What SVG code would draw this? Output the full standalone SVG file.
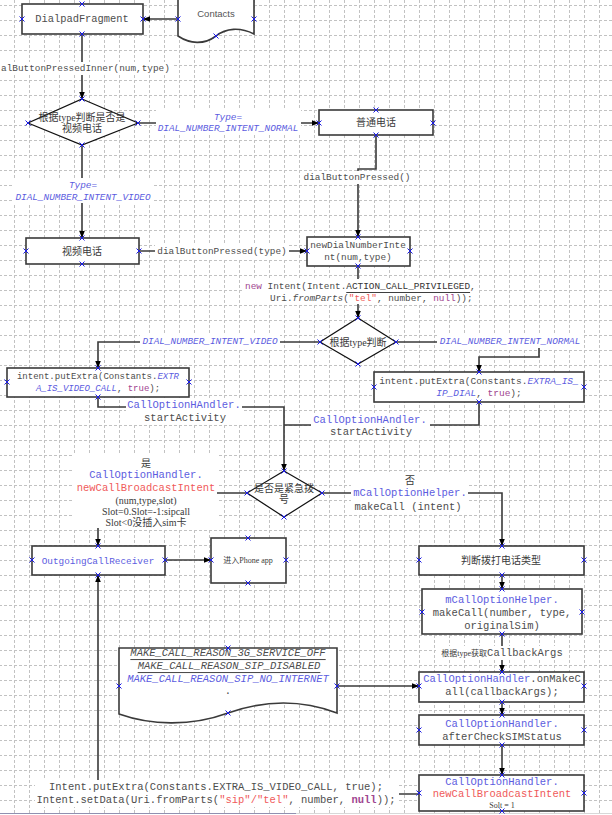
<svg xmlns="http://www.w3.org/2000/svg" xmlns:xlink="http://www.w3.org/1999/xlink" width="612" height="815" viewBox="0 0 612 815">
<style>
.grid{fill:url(#gridpat)}
.box{fill:#fff;stroke:#3a3a3a;stroke-width:1.6}
.dia{fill:#fff;stroke:#111;stroke-width:1.2}
.conn{fill:none;stroke:#3a3a3a;stroke-width:1.6}
.arr{marker-end:url(#ah)}
.bg{fill:#fff}
text{dominant-baseline:central;text-anchor:middle}
.m{font-family:"Liberation Mono",monospace;font-size:9.4px;fill:#4d4d4d}
.ml{font-family:"Liberation Mono",monospace;font-size:10.5px;fill:#4d4d4d}
.cn{font-family:"Liberation Serif","Noto Sans CJK SC",serif;font-size:10px;fill:#3a3a3a}
.cs{font-family:"Liberation Serif","Noto Sans CJK SC",serif;font-size:8px;fill:#3a3a3a}
.sans{font-family:"Liberation Sans",sans-serif;font-size:9.5px;fill:#555}
.b{fill:#5c5ce0}
.i{font-style:italic}
.r{fill:#f05a5a}
.p{fill:#a0458f}
.u{text-decoration:underline}
.bold{font-weight:bold}
</style>
<defs>
<pattern id="gridpat" x="14" y="5" width="15" height="15" patternUnits="userSpaceOnUse">
<path d="M0 0.5H15M0.5 0V15" stroke="#c2c2c2" stroke-width="1" stroke-dasharray="3 2" fill="none"/>
</pattern>
<marker id="ah" viewBox="0 0 10 10" refX="10" refY="5" markerWidth="7" markerHeight="7" markerUnits="userSpaceOnUse" orient="auto">
<path d="M0,1 L10,5 L0,9 z" fill="#000"/>
</marker>
<path id="x" d="M-2.5,-2.5L2.5,2.5M-2.5,2.5L2.5,-2.5" stroke="#1a1ae6" stroke-width="1" fill="none"/>
</defs>

<rect x="0" y="0" width="612" height="815" fill="#fff"/>
<rect class="grid" x="0" y="0" width="612" height="815"/>
<line x1="0" y1="813.5" x2="296" y2="813.5" stroke="#9090b0" stroke-width="1"/>
<line x1="296" y1="813.5" x2="612" y2="813.5" stroke="#d8d8d8" stroke-width="1"/>

<g id="connectors">
<path class="conn arr" d="M178,19H143"/>
<path class="conn arr" d="M82,34V99"/>
<path class="conn arr" d="M138,123H319"/>
<path class="conn arr" d="M376,135V169H358V237"/>
<path class="conn arr" d="M82,145V238"/>
<path class="conn arr" d="M139,251H307"/>
<path class="conn arr" d="M358,266V318"/>
<path class="conn arr" d="M320,342H98V368"/>
<path class="conn arr" d="M396,342H539V357H479V372"/>
<path class="conn arr" d="M98,397V407H284V471"/>
<path class="conn" d="M479,402V425H284"/>
<path class="conn arr" d="M247,493H98V546"/>
<path class="conn arr" d="M165,560H211"/>
<path class="conn arr" d="M322,493H502V546"/>
<path class="conn arr" d="M502,575V589"/>
<path class="conn arr" d="M502,634V672"/>
<path class="conn arr" d="M337,686H419"/>
<path class="conn arr" d="M502,702V715"/>
<path class="conn arr" d="M502,745V775"/>
<path class="conn arr" d="M419,794H98V575"/>

<g id="labels">
<rect class="bg" x="0" y="62" width="174" height="13"/>
<text class="m" x="1" y="68" style="text-anchor:start">alButtonPressedInner(num,type)</text>
<rect class="bg" x="156" y="110" width="145" height="24"/>
<text class="m b i" x="228" y="117">Type=</text>
<text class="m b i" x="228" y="128">DIAL_NUMBER_INTENT_NORMAL</text>
<rect class="bg" x="302" y="171" width="111" height="13"/>
<text class="m" x="357" y="177">dialButtonPressed()</text>
<rect class="bg" x="14" y="178" width="139" height="25"/>
<text class="m b i" x="83" y="185">Type=</text>
<text class="m b i" x="83" y="197">DIAL_NUMBER_INTENT_VIDEO</text>
<rect class="bg" x="155" y="245" width="134" height="13"/>
<text class="m" x="222" y="251">dialButtonPressed(type)</text>
<rect class="bg" x="243" y="279" width="236" height="25"/>
<text class="m" x="245" y="286" style="text-anchor:start"><tspan class="p">new</tspan> Intent(Intent.<tspan class="u" fill="#333">ACTION_CALL_PRIVILEGED</tspan>,</text>
<text class="m" x="270" y="298" style="text-anchor:start">Uri.<tspan class="i">fromParts</tspan>(<tspan class="r">"tel"</tspan>, number, <tspan class="p">null</tspan>));</text>
<rect class="bg" x="140" y="335" width="140" height="13"/>
<text class="m b i" x="210" y="341">DIAL_NUMBER_INTENT_VIDEO</text>
<rect class="bg" x="437" y="335" width="146" height="13"/>
<text class="m b i" x="510" y="341">DIAL_NUMBER_INTENT_NORMAL</text>
<rect class="bg" x="126" y="399" width="116" height="26"/>
<text class="ml b" x="184" y="405">CallOptionHAndler.</text>
<text class="ml" x="185" y="418">startActivity</text>
<rect class="bg" x="311" y="413" width="119" height="26"/>
<text class="ml b" x="370" y="420">CallOptionHAndler.</text>
<text class="ml" x="371" y="432">startActivity</text>
<rect class="bg" x="74" y="455" width="143" height="73"/>
<text class="cn" x="146" y="463">是</text>
<text class="ml b" x="146" y="475">CallOptionHandler.</text>
<text class="ml r" x="146" y="488">newCallBroadcastIntent</text>
<text class="cn" x="146" y="500">(num,type,slot)</text>
<text class="cn" x="146" y="511">Slot=0.Slot=-1:sipcall</text>
<text class="cn" x="146" y="522">Slot&lt;0没插入sim卡</text>
<rect class="bg" x="351" y="472" width="117" height="41"/>
<text class="cn" x="410" y="480">否</text>
<text class="ml b" x="410" y="493">mCallOptionHelper.</text>
<text class="ml" x="408" y="507">makeCall (intent)</text>
<rect class="bg" x="436" y="646" width="131" height="14"/>
<text x="502" y="653"><tspan class="cs">根据type获取</tspan><tspan class="ml">CallbackArgs</tspan></text>
<rect class="bg" x="35" y="780" width="364" height="27"/>
<text class="ml" x="216" y="787">Intent.putExtra(Constants.EXTRA_IS_VIDEO_CALL, true);</text>
<text class="ml" x="216" y="800">Intent.setData(Uri.fromParts(<tspan class="r">"sip"/"tel"</tspan>, number, <tspan class="p bold">null</tspan>));</text>
</g>
</g>

<g id="DialpadFragment">
<rect class="box" x="22" y="4" width="121" height="30"/>
<text class="m" x="82" y="19" style="font-size:10.4px">DialpadFragment</text>
</g>
<g id="Contacts">
<path class="box" d="M178,-3H254V34C240,27 226,28 216,36C204,45 190,44 178,36Z"/>
<text class="sans" x="216" y="13">Contacts</text>
</g>
<g id="decision-video">
<polygon class="dia" points="82,99 138,123 82,145 28,123"/>
<text class="cn" x="82" y="117">根据type判断是否是</text>
<text class="cn" x="82" y="128">视频电话</text>
</g>
<g id="normal-call">
<rect class="box" x="319" y="110" width="114" height="25"/>
<text class="cn" x="376" y="122">普通电话</text>
</g>
<g id="video-call">
<rect class="box" x="26" y="238" width="113" height="26"/>
<text class="cn" x="82" y="251">视频电话</text>
</g>
<g id="newDialNumberIntent">
<rect class="box" x="307" y="237" width="103" height="29"/>
<text class="m" x="358" y="245">newDialNumberInte</text>
<text class="m" x="358" y="257">nt(num,type)</text>
</g>
<g id="decision-type">
<polygon class="dia" points="358,318 396,342 358,364 320,342"/>
<text class="cn" x="358" y="342">根据type判断</text>
</g>
<g id="putExtra-video">
<rect class="box" x="7" y="368" width="182" height="29"/>
<text class="m" x="98" y="377" style="font-size:9px">intent.putExtra(Constants.<tspan class="b i">EXTR</tspan></text>
<text class="m" x="98" y="389" style="font-size:9px"><tspan class="b i">A_IS_VIDEO_CALL</tspan>, <tspan class="p">true</tspan>);</text>
</g>
<g id="putExtra-ipdial">
<rect class="box" x="374" y="372" width="210" height="30"/>
<text class="m" x="479" y="381" style="font-size:9.5px">intent.putExtra(Constants.<tspan class="b i">EXTRA_IS_</tspan></text>
<text class="m" x="479" y="393" style="font-size:9.5px"><tspan class="b i">IP_DIAL</tspan>, <tspan class="p">true</tspan>);</text>
</g>
<g id="decision-emergency">
<polygon class="dia" points="284,471 322,493 284,517 247,493"/>
<text class="cn" x="284" y="488">是否是紧急拨</text>
<text class="cn" x="284" y="499">号</text>
</g>
<g id="OutgoingCallReceiver">
<rect class="box" x="32" y="546" width="133" height="29"/>
<text class="m b" x="98" y="561">OutgoingCallReceiver</text>
</g>
<g id="phone-app">
<rect class="box" x="211" y="538" width="75" height="45"/>
<text class="cs" x="248" y="560">进入Phone app</text>
</g>
<g id="call-type">
<rect class="box" x="419" y="546" width="165" height="29"/>
<text class="cn" x="501" y="560">判断拨打电话类型</text>
</g>
<g id="makeCall">
<rect class="box" x="422" y="589" width="160" height="45"/>
<text class="ml b" x="502" y="600">mCallOptionHelper.</text>
<text class="ml" x="502" y="613">makeCall(number, type,</text>
<text class="ml" x="502" y="626">originalSim)</text>
</g>
<g id="reasons">
<path class="box" d="M119,648H337V713C300,699 262,701 228,713C190,727 150,725 119,714Z"/>
<text class="ml i u" x="228" y="653">MAKE_CALL_REASON_3G_SERVICE_OFF</text>
<text class="ml i u" x="229" y="666">MAKE_CALL_REASON_SIP_DISABLED</text>
<text class="ml i b" x="228" y="679">MAKE_CALL_REASON_SIP_NO_INTERNET</text>
<text class="ml" x="228" y="691">.</text>
</g>
<g id="onMakeCall">
<rect class="box" x="419" y="672" width="165" height="30"/>
<text class="ml" x="502" y="679"><tspan class="b">CallOptionHandler</tspan>.onMakeC</text>
<text class="ml" x="502" y="692">all(callbackArgs);</text>
</g>
<g id="afterCheckSIMStatus">
<rect class="box" x="419" y="715" width="165" height="30"/>
<text class="ml b" x="502" y="724">CallOptionHandler.</text>
<text class="ml" x="502" y="737">afterCheckSIMStatus</text>
</g>
<g id="newCallBroadcastIntent">
<rect class="box" x="419" y="775" width="165" height="36"/>
<text class="ml b" x="502" y="782">CallOptionHandler.</text>
<text class="ml r" x="502" y="794">newCallBroadcastIntent</text>
<text class="cs" x="502" y="805">Solt = 1</text>
</g>

<g id="connection-points">
<use href="#x" x="82" y="4"/><use href="#x" x="22" y="19"/><use href="#x" x="143" y="19"/><use href="#x" x="82" y="34"/>
<use href="#x" x="178" y="19"/><use href="#x" x="254" y="19"/><use href="#x" x="216" y="36"/>
<use href="#x" x="82" y="99"/><use href="#x" x="28" y="123"/><use href="#x" x="138" y="123"/><use href="#x" x="82" y="145"/>
<use href="#x" x="376" y="110"/><use href="#x" x="319" y="123"/><use href="#x" x="433" y="123"/><use href="#x" x="376" y="135"/>
<use href="#x" x="82" y="238"/><use href="#x" x="26" y="251"/><use href="#x" x="139" y="251"/><use href="#x" x="82" y="264"/>
<use href="#x" x="358" y="237"/><use href="#x" x="307" y="251"/><use href="#x" x="410" y="251"/><use href="#x" x="358" y="266"/>
<use href="#x" x="358" y="318"/><use href="#x" x="320" y="342"/><use href="#x" x="396" y="342"/><use href="#x" x="358" y="364"/>
<use href="#x" x="98" y="368"/><use href="#x" x="7" y="382"/><use href="#x" x="189" y="382"/><use href="#x" x="98" y="397"/>
<use href="#x" x="479" y="372"/><use href="#x" x="374" y="387"/><use href="#x" x="584" y="387"/><use href="#x" x="479" y="402"/>
<use href="#x" x="284" y="471"/><use href="#x" x="247" y="493"/><use href="#x" x="322" y="493"/><use href="#x" x="284" y="517"/>
<use href="#x" x="98" y="546"/><use href="#x" x="32" y="560"/><use href="#x" x="165" y="560"/><use href="#x" x="98" y="575"/>
<use href="#x" x="248" y="538"/><use href="#x" x="211" y="560"/><use href="#x" x="286" y="560"/><use href="#x" x="248" y="583"/>
<use href="#x" x="502" y="546"/><use href="#x" x="419" y="560"/><use href="#x" x="584" y="560"/><use href="#x" x="502" y="575"/>
<use href="#x" x="502" y="589"/><use href="#x" x="422" y="612"/><use href="#x" x="582" y="612"/><use href="#x" x="502" y="634"/>
<use href="#x" x="502" y="672"/><use href="#x" x="419" y="686"/><use href="#x" x="584" y="686"/><use href="#x" x="502" y="702"/>
<use href="#x" x="502" y="715"/><use href="#x" x="419" y="730"/><use href="#x" x="584" y="730"/><use href="#x" x="502" y="745"/>
<use href="#x" x="502" y="775"/><use href="#x" x="419" y="793"/><use href="#x" x="584" y="793"/><use href="#x" x="502" y="811"/>
<use href="#x" x="228" y="648"/><use href="#x" x="119" y="686"/><use href="#x" x="337" y="686"/><use href="#x" x="228" y="713"/>
</g>
</svg>
